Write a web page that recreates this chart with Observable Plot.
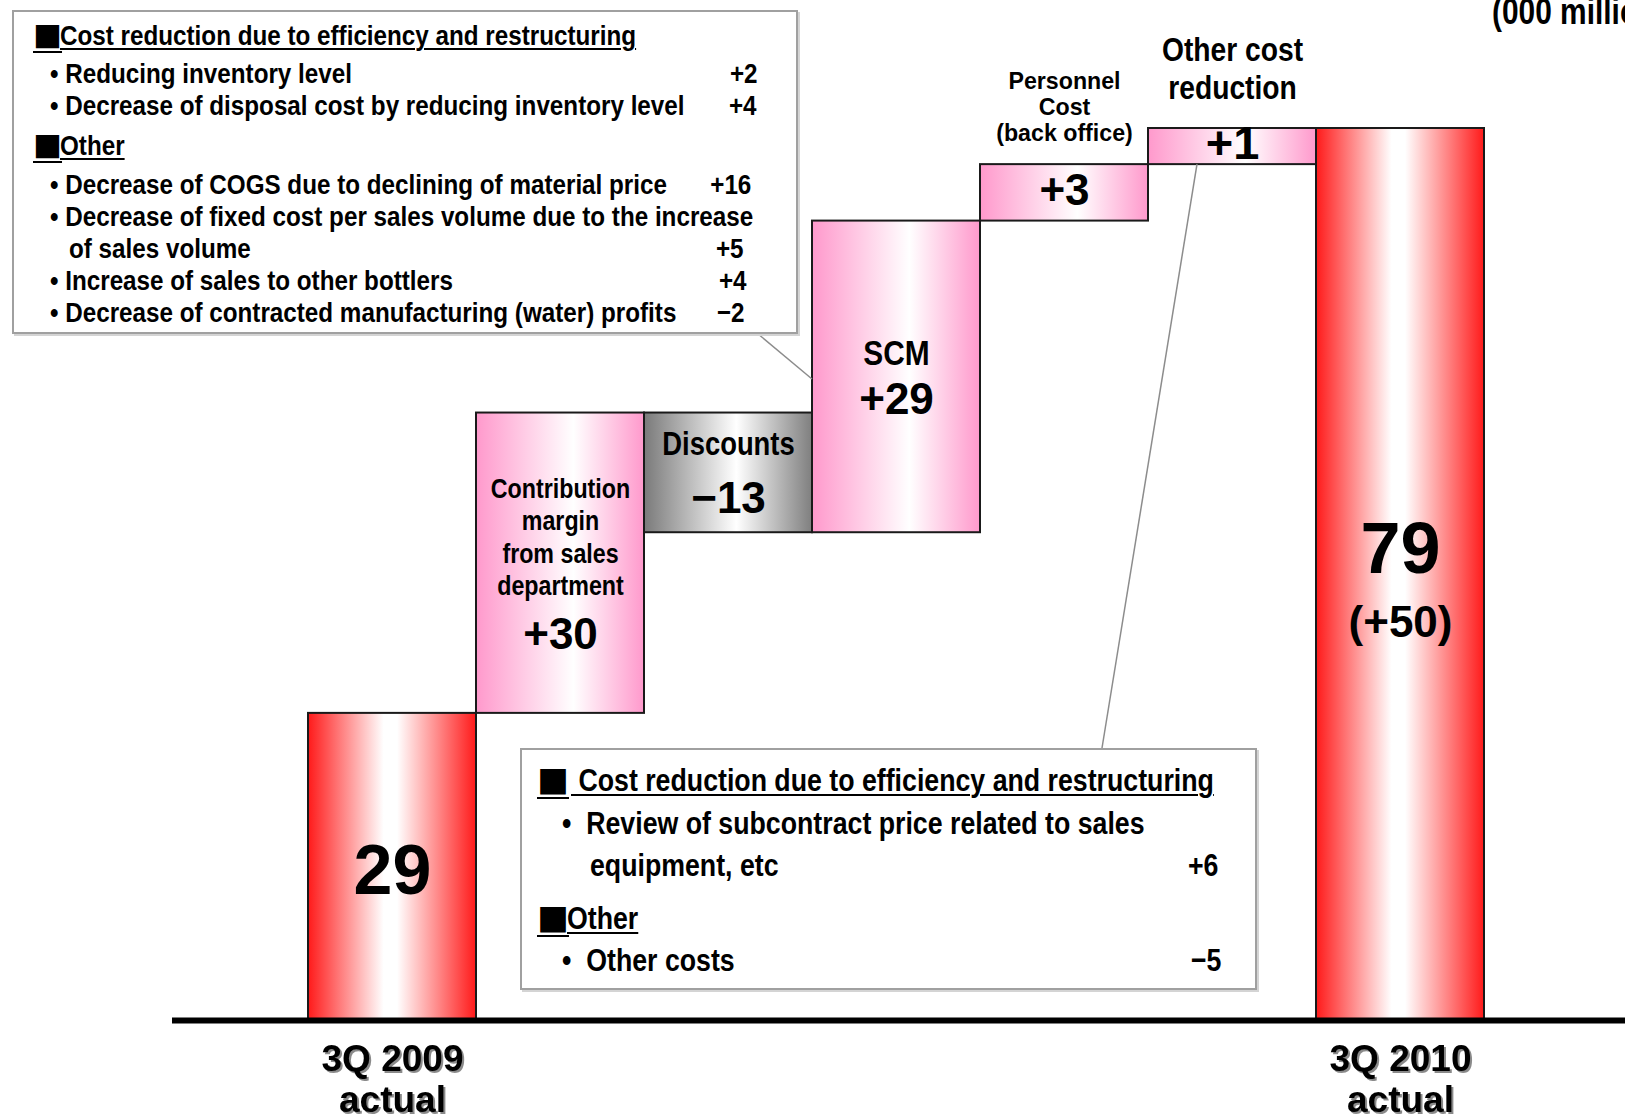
<!DOCTYPE html>
<html><head><meta charset="utf-8">
<script src="https://cdn.jsdelivr.net/npm/d3@7"></script>
<script src="https://cdn.jsdelivr.net/npm/@observablehq/plot@0.6"></script>
<style>
html,body{margin:0;padding:0;background:#fff;}
body{width:1625px;height:1120px;overflow:hidden;position:relative;}
#chart{position:absolute;left:0;top:0;}
.box{position:absolute;background:#fff;border:2px solid #a0a0a0;box-shadow:2px 2px 0 #d4d4d4;box-sizing:border-box;}
.ln{position:absolute;white-space:nowrap;color:#000;font-weight:bold;transform-origin:left center;}
.rt{transform-origin:right center;}
.ul{text-decoration:underline;text-underline-offset:3px;text-decoration-thickness:2px;}
</style></head><body>
<div id="chart"></div>
<script>
// ---------------- data ----------------
const categories = ["3Q 2009 actual", "Contribution margin from sales department", "Discounts", "SCM", "Personnel Cost (back office)", "Other cost reduction", "3Q 2010 actual"];
const kinds = ["total", "increase", "decrease", "increase", "increase", "increase", "total"];
const changes = [29, 30, -13, 29, 3, 1, 79];
const valueLabels = ["29", "+30", "−13", "+29", "+3", "+1", "79"];
// running level after each step, as drawn in the reference (the original is not drawn to scale)
const drawnLevels = [27.2, 53.8, 43.2, 70.8, 75.8, 79, 79];
const insideNames = ["", "Contribution\nmargin\nfrom sales\ndepartment", "Discounts", "SCM", "", "", ""];
const aboveNames = ["", "", "", "", "Personnel\nCost\n(back office)", "Other cost\nreduction", ""];
const axisLabels = ["3Q 2009\nactual", "", "", "", "", "", "3Q 2010\nactual"];
const totalChangeLabel = "(+50)";
const unitLabel = "(000 million yen)";
const topNoteHeads = ["Cost reduction due to efficiency and restructuring", "Other"];
const topNoteText = [
  "Reducing inventory level",
  "Decrease of disposal cost by reducing inventory level",
  "Decrease of COGS due to declining of material price",
  "Decrease of fixed cost per sales volume due to the increase",
  "of sales volume",
  "Increase of sales to other bottlers",
  "Decrease of contracted manufacturing (water) profits"
];
const topNoteValues = ["+2", "+4", "+16", "", "+5", "+4", "−2"];
const bottomNoteHeads = ["Cost reduction due to efficiency and restructuring", "Other"];
const bottomNoteText = ["Review of subcontract price related to sales", "equipment, etc", "Other costs"];
const bottomNoteValues = ["", "+6", "−5"];

// ---------------- layout / style ----------------
const FL = '"Liberation Sans",sans-serif';                 // condensed afterwards
const FP = '"Liberation Sans","DejaVu Sans",sans-serif';   // plain
const FX = '"Liberation Sans","Noto Sans",sans-serif';     // axis labels with shadow
const FW = '"Liberation Sans","Noto Sans CJK JP",sans-serif';
const FJ = '"Noto Sans CJK JP",sans-serif';
const squeeze = {[FL]: 0.83};

const rows = categories.map((c, i) => {
  const prev = i === 0 ? 0 : drawnLevels[i - 1];
  const total = kinds[i] === "total";
  const lo = total ? 0 : Math.min(prev, drawnLevels[i]);
  const hi = total ? drawnLevels[i] : Math.max(prev, drawnLevels[i]);
  return {cat: c, kind: kinds[i], lo, hi, mid: (lo + hi) / 2, base: 0,
    change: changes[i], value: valueLabels[i], name: insideNames[i], above: aboveNames[i], axis: axisLabels[i]};
});

const fills = {total: "url(#gRed)", increase: "url(#gPink)", decrease: "url(#gGray)"};
const valueStyle = [
  {dy: 5, size: 70}, {dy: 72, size: 44}, {dy: 26, size: 44}, {dy: 23.5, size: 44},
  {dy: -2, size: 44}, {dy: -3, size: 47}, {dy: -25, size: 72}
];
const nameStyle = [null, {dy: -27, size: 28, lh: 1.16, f: FL}, {dy: -28, size: 33, lh: 1, f: FL}, {dy: -23.5, size: 36, lh: 1, f: FL}, null, null, null];
const aboveStyle = [null, null, null, null, {dy: -86, size: 23.2, lh: 1.12, f: FP}, {dy: -79, size: 34, lh: 1.118, f: FL}, null];

const marks = [];
for (const k of Object.keys(fills)) {
  marks.push(Plot.barY(rows.filter(d => d.kind === k), {x: "cat", y1: "lo", y2: "hi", fill: fills[k], stroke: "#1a1a1a", strokeWidth: 2}));
}
marks.push(Plot.ruleY([0], {stroke: "#000", strokeWidth: 6, insetLeft: -135, insetRight: -141}));
rows.forEach((r, i) => {
  const vs = valueStyle[i];
  marks.push(Plot.text([r], {x: "cat", y: "mid", text: "value", dy: vs.dy, fontSize: vs.size, fontWeight: "bold", fontFamily: FW, fill: "#000"}));
  for (const [s, field] of [[nameStyle[i], "name"], [aboveStyle[i], "above"]]) {
    if (!s) continue;
    marks.push(Plot.text([r], {x: "cat", y: "mid", text: field, dy: s.dy, fontSize: s.size, lineHeight: s.lh, fontWeight: "bold", fontFamily: s.f, fill: "#000"}));
  }
});
// total change under the final value
const last = rows[rows.length - 1];
marks.push(Plot.text([last], {x: "cat", y: "mid", text: () => totalChangeLabel, dy: 48, fontSize: 44, fontWeight: "bold", fontFamily: FW, fill: "#000"}));
// category labels (shadow added below)
const axisRows = rows.filter(d => d.axis);
marks.push(Plot.text(axisRows, {x: "cat", y: "base", text: "axis", dy: 57.5, fontSize: 37, lineHeight: 1.117, fontWeight: "bold", fontFamily: FX, fill: "#000"}));

const chart = Plot.plot({
  width: 1625, height: 1120,
  marginLeft: 307, marginRight: 141, marginTop: 128, marginBottom: 100,
  x: {type: "band", domain: categories, padding: 0, axis: null},
  y: {domain: [0, 79], axis: null},
  style: {background: "transparent", fontFamily: FP},
  marks
});
document.getElementById("chart").appendChild(chart);

// gradients
const svg = d3.select(chart);
const defs = svg.insert("defs", ":first-child");
function grad(id, stops) {
  const g = defs.append("linearGradient").attr("id", id).attr("x1", 0).attr("x2", 1).attr("y1", 0).attr("y2", 0);
  stops.forEach(([o, c]) => g.append("stop").attr("offset", o).attr("stop-color", c));
}
grad("gRed", [[0, "#ff1a1a"], [0.45, "#ffffff"], [0.53, "#ffffff"], [1, "#ff1a1a"]]);
grad("gPink", [[0, "#ff99cc"], [0.58, "#ffffff"], [1, "#ff99cc"]]);
grad("gGray", [[0, "#7a7a7a"], [0.55, "#ffffff"], [1, "#7f7f7f"]]);

// condense labels horizontally (no narrow font is installed); shadow on category labels
svg.selectAll("g").each(function () {
  const fam = this.getAttribute("font-family");
  if (fam === FX) this.style.filter = "drop-shadow(2px 2px 0 #8a8a8a)";
  const s = squeeze[fam];
  if (!s) return;
  d3.select(this).selectAll("text").each(function () {
    const t = this.getAttribute("transform");
    if (t) this.setAttribute("transform", t + ` scale(${s},1)`);
    else {
      const x = +this.getAttribute("x") || 0, y = +this.getAttribute("y") || 0;
      this.removeAttribute("x"); this.removeAttribute("y");
      this.setAttribute("transform", `translate(${x},${y}) scale(${s},1)`);
    }
  });
});

// connector lines from the note boxes to the bars
const xs = chart.scale("x"), ys = chart.scale("y");
const scmRow = rows[3], otherRow = rows[5];
svg.append("line").attr("x1", 757).attr("y1", 333).attr("x2", xs.apply(scmRow.cat)).attr("y2", 379)
  .attr("stroke", "#8c8c8c").attr("stroke-width", 1.5);
svg.append("line").attr("x1", 1102).attr("y1", 748).attr("x2", xs.apply(otherRow.cat) + 49).attr("y2", ys.apply(otherRow.lo))
  .attr("stroke", "#8c8c8c").attr("stroke-width", 1.5);

// ---------------- HTML notes ----------------
const body = document.body;
function addBox(l, t, w, h) {
  const d = document.createElement("div"); d.className = "box";
  Object.assign(d.style, {left: l + "px", top: t + "px", width: w + "px", height: h + "px"});
  body.appendChild(d);
}
function addText(text, x, cy, o) {
  const d = document.createElement("div");
  d.className = "ln" + (o.ul ? " ul" : "") + (o.right ? " rt" : "");
  d.textContent = text;
  const lh = Math.round(o.size * 1.12);
  Object.assign(d.style, {top: (cy - lh / 2) + "px", fontSize: o.size + "px", lineHeight: lh + "px", height: lh + "px",
    fontFamily: o.font || FL, transform: `scaleX(${o.sq || 1})`});
  if (o.right) d.style.right = (1625 - x) + "px"; else d.style.left = x + "px";
  body.appendChild(d);
}
const NB = "\u00A0";
// top-left note
addBox(12, 10, 786, 324);
const topHeadY = [35, 145], topHeadX = [60, 60];
topNoteHeads.forEach((t, i) => {
  addText("■", 33, topHeadY[i], {size: 29, font: FJ, ul: true});
  addText(t, topHeadX[i], topHeadY[i], {size: 28.5, sq: 0.85, ul: true});
});
const topY = [72.5, 104.5, 183.5, 215.6, 247.7, 280, 312];
const topBullet = [true, true, true, true, false, true, true];
const topVR = [757, 756, 751, 0, 743, 746, 744];
topNoteText.forEach((t, i) => {
  addText(topBullet[i] ? "•" + NB + t : t, topBullet[i] ? 50 : 69, topY[i], {size: 28.5, sq: 0.85});
  if (topNoteValues[i]) addText(topNoteValues[i], topVR[i], topY[i], {size: 28.5, sq: 0.85, right: true});
});
// bottom note
addBox(520, 748, 737, 242);
const botHeadY = [780, 918], botHeadX = [571, 567];
bottomNoteHeads.forEach((t, i) => {
  addText("■", 537, botHeadY[i], {size: 32, font: FJ, ul: true});
  addText((i === 0 ? NB : "") + t, botHeadX[i], botHeadY[i], {size: 32, sq: 0.835, ul: true});
});
const botY = [823, 865, 960];
const botBullet = [true, false, true];
const botVR = [0, 1218, 1221];
bottomNoteText.forEach((t, i) => {
  addText(botBullet[i] ? "•" + NB + NB + t : t, botBullet[i] ? 562 : 590, botY[i], {size: 32, sq: 0.835});
  if (bottomNoteValues[i]) addText(bottomNoteValues[i], botVR[i], botY[i], {size: 32, sq: 0.835, right: true});
});
addText(unitLabel, 1492, 12, {size: 36, sq: 0.83});
</script></body></html>
